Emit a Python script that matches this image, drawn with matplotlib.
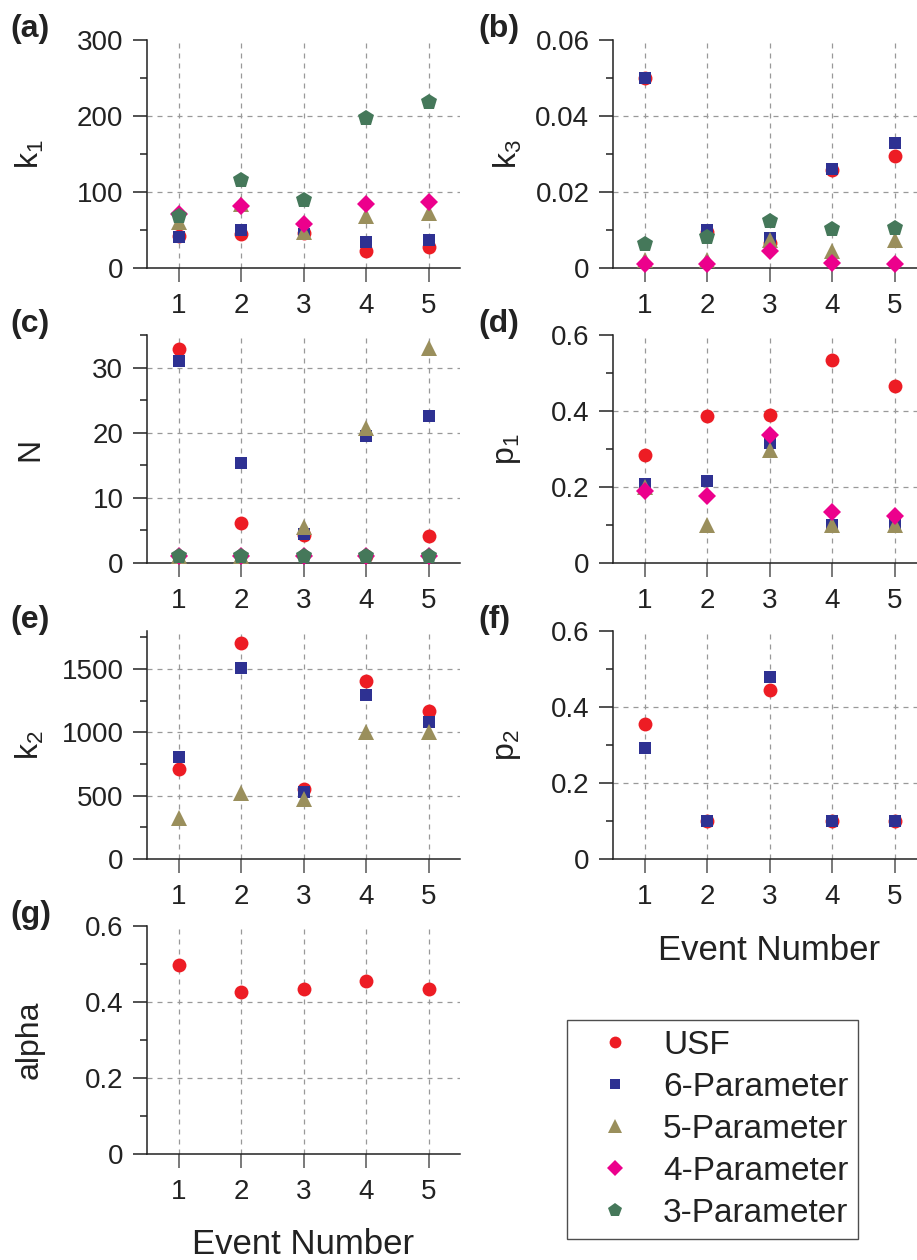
import numpy as np
import matplotlib
matplotlib.use("Agg")
import matplotlib.pyplot as plt
from matplotlib.ticker import AutoMinorLocator

plt.rcParams['font.family'] = ['Liberation Sans', 'DejaVu Sans']
plt.rcParams['mathtext.fontset'] = 'custom'
plt.rcParams['mathtext.rm'] = 'Liberation Sans'
plt.rcParams['mathtext.it'] = 'Liberation Sans'

events = [1, 2, 3, 4, 5]
models = ["USF", "6-Parameter", "5-Parameter", "4-Parameter", "3-Parameter"]

# values, one list per model
k1_usf = [42, 45, 46, 23, 27.5]
k1_p6 = [40.5, 50, 44.5, 34, 37]
k1_p5 = [61, 84, 48, 69, 72]
k1_p4 = [71, 82, 58, 84, 87.5]
k1_p3 = [69, 115.5, 89, 197, 219]

k3_usf = [0.050, 0.0096, 0.0066, 0.0257, 0.0296]
k3_p6 = [0.050, 0.0101, 0.0078, 0.0261, 0.0330]
k3_p5 = [0.0022, 0.0020, 0.0073, 0.0044, 0.0073]
k3_p4 = [0.0010, 0.0010, 0.0044, 0.0013, 0.0010]
k3_p3 = [0.0063, 0.0081, 0.0125, 0.0102, 0.0105]

n_usf = [32.8, 6.1, 4.3, 1, 4.2]
n_p6 = [31, 15.4, 4.4, 19.5, 22.5]
n_p5 = [1, 1, 5.5, 20.8, 33]
n_p4 = [1, 1, 1, 1, 1]
n_p3 = [1, 1, 1, 1, 1]

p1_usf = [0.285, 0.387, 0.389, 0.533, 0.466]
p1_p6 = [0.207, 0.216, 0.315, 0.10, 0.10]
p1_p5 = [0.20, 0.10, 0.298, 0.10, 0.10]
p1_p4 = [0.19, 0.177, 0.337, 0.133, 0.124]

k2_usf = [710, 1708, 550, 1408, 1171]
k2_p6 = [808, 1510, 526, 1295, 1084]
k2_p5 = [320, 520, 470, 1000, 1000]

p2_usf = [0.354, 0.10, 0.446, 0.10, 0.10]
p2_p6 = [0.293, 0.10, 0.479, 0.10, 0.10]

alpha_usf = [0.498, 0.426, 0.434, 0.456, 0.435]

colors = ["#ED1C24", "#2E3192", "#9A8F5C", "#EC008C", "#45785A"]
markers = ["o", "s", "^", "D", "p"]
msizes = [10, 9, 11.5, 9, 12]

W, H = 917, 1260
TXT = "#222222"


def rect(x0, top, x1, bottom):
    return [x0 / W, 1 - bottom / H, (x1 - x0) / W, (bottom - top) / H]


fig = plt.figure(figsize=(W / 100, H / 100), dpi=100)

panels = [
    ("(a)", "k$_1$", [k1_usf, k1_p6, k1_p5, k1_p4, k1_p3],
     (0, 300), [0, 100, 200, 300], ["0", "100", "200", "300"], 0, 40),
    ("(b)", "k$_3$", [k3_usf, k3_p6, k3_p5, k3_p4, k3_p3],
     (0, 0.06), [0, 0.02, 0.04, 0.06], ["0", "0.02", "0.04", "0.06"], 1, 40),
    ("(c)", "N", [n_usf, n_p6, n_p5, n_p4, n_p3],
     (0, 35), [0, 10, 20, 30], ["0", "10", "20", "30"], 0, 335),
    ("(d)", "p$_1$", [p1_usf, p1_p6, p1_p5, p1_p4],
     (0, 0.6), [0, 0.2, 0.4, 0.6], ["0", "0.2", "0.4", "0.6"], 1, 335),
    ("(e)", "k$_2$", [k2_usf, k2_p6, k2_p5],
     (0, 1800), [0, 500, 1000, 1500], ["0", "500", "1000", "1500"], 0, 631),
    ("(f)", "p$_2$", [p2_usf, p2_p6],
     (0, 0.6), [0, 0.2, 0.4, 0.6], ["0", "0.2", "0.4", "0.6"], 1, 631),
    ("(g)", "alpha", [alpha_usf],
     (0, 0.6), [0, 0.2, 0.4, 0.6], ["0", "0.2", "0.4", "0.6"], 0, 926),
]

axes = []
for tag, ylab, series, ylim, yt, ytl, col, top in panels:
    x0 = 147 if col == 0 else 613
    ax = fig.add_axes(rect(x0, top, x0 + 313, top + 228))
    axes.append(ax)
    for i, vals in enumerate(series):
        ax.plot(events, vals, linestyle="none", marker=markers[i],
                color=colors[i], markersize=msizes[i], markeredgewidth=0,
                label=models[i], clip_on=False, zorder=3 + i)
    ax.set_xlim(0.49, 5.5)
    ax.set_ylim(*ylim)
    ax.set_xticks(events)
    ax.set_xticklabels([str(e) for e in events])
    ax.set_yticks(yt)
    ax.set_yticklabels(ytl)
    ax.yaxis.set_minor_locator(AutoMinorLocator(2))
    ax.spines["top"].set_visible(False)
    ax.spines["right"].set_visible(False)
    for s in ("left", "bottom"):
        ax.spines[s].set_linewidth(1.1)
        ax.spines[s].set_color(TXT)
    ax.tick_params(axis="y", which="major", direction="out", length=10,
                   width=1.1, color=TXT, labelsize=20, pad=7,
                   labelcolor=TXT)
    ax.tick_params(axis="y", which="minor", direction="out", length=5,
                   width=1.1, color=TXT)
    ax.tick_params(axis="x", which="major", direction="out", length=10,
                   width=1.1, color="#555555", labelsize=20, pad=8,
                   labelcolor=TXT)
    ax.grid(True, which="major", color="#999999", linestyle=(0, (4, 4)),
            linewidth=0.9)
    ax.set_axisbelow(True)
    for t in ax.yaxis.get_major_ticks():
        if t.get_loc() in ylim:
            t.gridline.set_visible(False)
    ax.set_ylabel(ylab, fontsize=23, color=TXT)
    ax.yaxis.label.set_va("center")
    if col == 0:
        ax.yaxis.set_label_coords((30 - 147) / 313, 0.5)
    else:
        ax.yaxis.set_label_coords((508 - 613) / 313, 0.5)
    fig.text((10 if col == 0 else 478) / W, 1 - (top - 26) / H, tag,
             fontsize=23, fontweight="bold", ha="left", va="top", color=TXT)

for ax in (axes[5], axes[6]):
    ax.set_xlabel("Event Number", fontsize=25, color=TXT)
    ax.xaxis.label.set_va("center")
    ax.xaxis.set_label_coords(0.5, -91 / 228)

handles, labels = axes[0].get_legend_handles_labels()
leg = fig.legend(handles, labels, loc="upper left",
                 bbox_to_anchor=(567 / W, 1 - 1020 / H), borderaxespad=0,
                 fontsize=24, frameon=True, fancybox=False, edgecolor=TXT,
                 handlelength=2.28, handletextpad=0.3, labelspacing=0.33,
                 borderpad=0.3, markerscale=0.85)
leg.get_frame().set_linewidth(1.0)
for t in leg.get_texts():
    t.set_color(TXT)

fig.savefig("out.png", dpi=100)
